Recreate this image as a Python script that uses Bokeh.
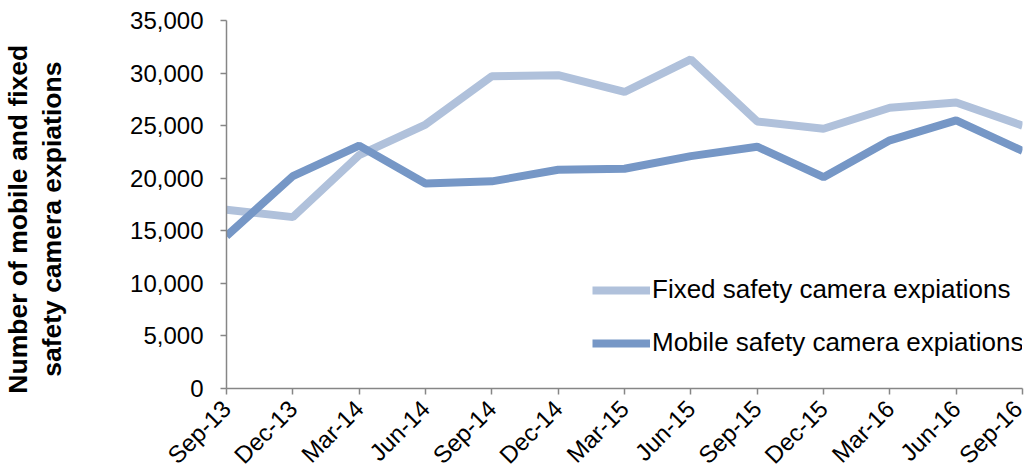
import math
from bokeh.plotting import figure
from bokeh.models import FixedTicker, Range1d, Legend, LegendItem, NumeralTickFormatter
from bokeh.embed import file_html
from bokeh.resources import INLINE

quarters = ["Sep-13", "Dec-13", "Mar-14", "Jun-14", "Sep-14", "Dec-14", "Mar-15",
            "Jun-15", "Sep-15", "Dec-15", "Mar-16", "Jun-16", "Sep-16"]
fixed = [17000, 16300, 22200, 25100, 29700, 29800, 28200, 31300, 25400, 24700, 26700, 27200, 25000]
mobile = [14500, 20200, 23100, 19500, 19700, 20800, 20900, 22100, 23000, 20100, 23600, 25500, 22600]
y_ticks = [0, 5000, 10000, 15000, 20000, 25000, 30000, 35000]

FONT = "Liberation Sans"
xs = list(range(len(quarters)))

p = figure(frame_width=796, frame_height=368, output_backend="svg", toolbar_location=None,
           x_range=Range1d(0, len(quarters) - 1), y_range=Range1d(0, 35000),
           min_border_top=20, min_border_right=5, min_border_left=218, min_border_bottom=10)
p.outline_line_color = None
p.xgrid.grid_line_color = None
p.ygrid.grid_line_color = None

r_fixed = p.line(xs, fixed, line_color="#B0C1DB", line_width=8)
r_mobile = p.line(xs, mobile, line_color="#7697C6", line_width=8)

p.xaxis.ticker = FixedTicker(ticks=xs)
p.xaxis.major_label_overrides = {i: q for i, q in enumerate(quarters)}
p.xaxis.major_label_orientation = math.pi / 4
p.yaxis.ticker = FixedTicker(ticks=y_ticks)
p.yaxis.formatter = NumeralTickFormatter(format="0,0")

for ax in (p.xaxis, p.yaxis):
    ax.axis_line_color = "#868686"
    ax.major_tick_line_color = "#868686"
    ax.minor_tick_line_color = None
    ax.major_tick_in = 0
    ax.major_tick_out = 6
    ax.major_label_text_font = FONT
    ax.major_label_text_font_size = "24px"
    ax.major_label_text_color = "#000000"
    ax.axis_line_width = 1.5
    ax.major_tick_line_width = 1.5

pad = "\u00a0" * 4
p.yaxis.major_label_standoff = 17
p.xaxis.major_label_standoff = 10
p.yaxis.axis_label = "Number of mobile and fixed" + pad + "\nsafety camera expiations" + pad
p.yaxis.axis_label_text_font = FONT
p.yaxis.axis_label_text_font_size = "26.5px"
p.yaxis.axis_label_text_font_style = "bold"
p.yaxis.axis_label_text_color = "#000000"
p.yaxis.axis_label_text_line_height = 1.12
p.yaxis.axis_label_standoff = 60

legend = Legend(items=[LegendItem(label="Fixed safety camera expiations", renderers=[r_fixed]),
                       LegendItem(label="Mobile safety camera expiations", renderers=[r_mobile])],
                location=(366, 30), padding=0, margin=0, spacing=22,
                glyph_width=58, glyph_height=26, label_height=26, label_standoff=2,
                label_text_font=FONT, label_text_font_size="26px", label_text_color="#000000",
                border_line_color=None, background_fill_alpha=0)
p.add_layout(legend)

open("out.html", "w").write(file_html(p, INLINE))
